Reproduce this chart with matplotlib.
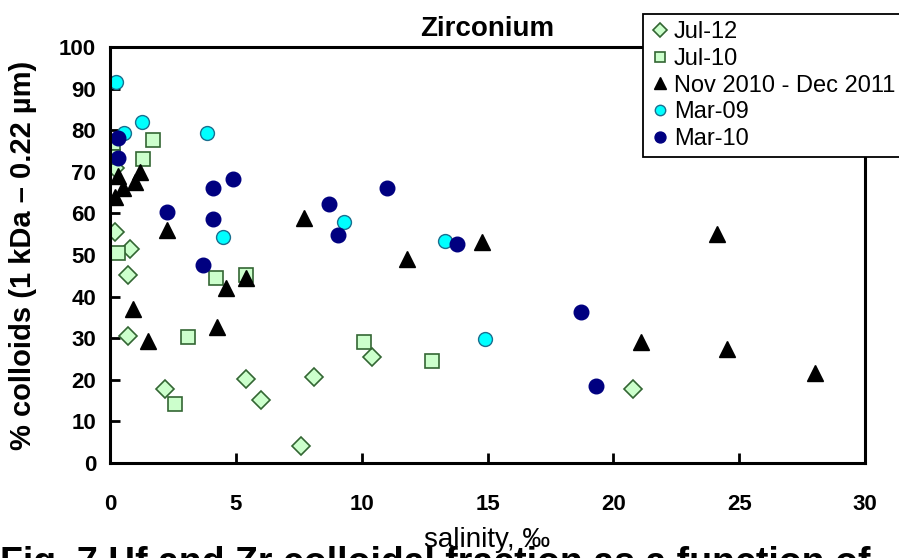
import numpy as np
import matplotlib.pyplot as plt

# salinity (permil) and % colloids for each campaign
jul12_x = [0.2, 0.8, 0.7, 0.7, 2.2, 5.4, 6.0, 7.6, 8.1, 10.4, 20.8, 0.2]
jul12_y = [55.5, 51.5, 45.2, 30.5, 17.8, 20.2, 15.1, 4.1, 20.7, 25.5, 17.8, 71.0]

jul10_x = [0.1, 0.1, 1.7, 1.3, 0.3, 4.2, 5.4, 3.1, 2.6, 10.1, 12.8]
jul10_y = [77.0, 73.6, 77.6, 73.0, 50.5, 44.5, 45.2, 30.3, 14.2, 29.0, 24.5]

nov_x = [0.2, 0.5, 1.0, 1.2, 0.3, 2.25, 0.9, 1.5, 4.6, 5.4, 4.25, 7.7, 11.8, 14.8, 24.1, 21.1, 24.5, 28.0]
nov_y = [64.0, 66.0, 67.5, 70.0, 69.0, 56.0, 37.0, 29.4, 42.1, 44.5, 32.7, 58.9, 49.0, 53.2, 55.0, 29.1, 27.4, 21.6]

mar09_x = [0.24, 1.27, 0.56, 3.85, 4.5, 9.3, 13.3, 14.9]
mar09_y = [91.6, 82.0, 79.3, 79.3, 54.3, 57.9, 53.4, 29.8]

mar10_x = [0.33, 0.33, 2.25, 4.1, 4.9, 4.1, 3.7, 11.0, 8.7, 9.06, 13.8, 18.7, 19.3]
mar10_y = [78.1, 73.3, 60.3, 66.1, 68.2, 58.6, 47.6, 66.1, 62.3, 54.8, 52.6, 36.3, 18.5]

plt.rcParams['font.family'] = ['Liberation Sans', 'DejaVu Sans']

fig = plt.figure(figsize=(8.99, 5.58), dpi=100)
ax = fig.add_axes([0.1224, 0.1703, 0.8398, 0.7455])

ax.plot(jul12_x, jul12_y, 'D', ms=9, mfc='#ccffcc', mec='#336633', mew=1.2, ls='none', label='Jul-12')
ax.plot(jul10_x, jul10_y, 's', ms=9.5, mfc='#ccffcc', mec='#336633', mew=1.2, ls='none', label='Jul-10')
ax.plot(nov_x, nov_y, '^', ms=11, mfc='black', mec='black', ls='none', label='Nov 2010 - Dec 2011')
ax.plot(mar09_x, mar09_y, 'o', ms=10, mfc='#00ffff', mec='#1a6f8f', mew=1.0, ls='none', label='Mar-09')
ax.plot(mar10_x, mar10_y, 'o', ms=10.5, mfc='#000080', mec='#000080', ls='none', label='Mar-10')

ax.set_xlim(0, 30)
ax.set_ylim(0, 100)
ax.set_xticks(np.arange(0, 31, 5))
ax.set_yticks(np.arange(0, 101, 10))
ax.tick_params(direction='in', length=7, width=2, labelsize=16, pad=22)
ax.tick_params(axis='y', pad=10)
for lab in ax.get_xticklabels() + ax.get_yticklabels():
    lab.set_fontweight('bold')
for s in ax.spines.values():
    s.set_linewidth(2.2)

ax.set_title('Zirconium', fontsize=20, fontweight='bold', pad=8)
ax.set_ylabel('% colloids (1 kDa \u2013 0.22 \u00b5m)', fontsize=21, fontweight='bold', labelpad=16)
ax.set_xlabel('salinity, \u2030', fontsize=20, labelpad=9)

leg = fig.legend(loc='upper left', bbox_to_anchor=(643 / 899, 1 - 14 / 558), fontsize=17,
                 markerscale=0.75, handlelength=0.8, handletextpad=0.2, labelspacing=0.2,
                 borderpad=0.3, borderaxespad=0, fancybox=False, framealpha=1, edgecolor='black')
leg.get_frame().set_linewidth(1.3)

fig.text(0.0, -0.028, 'Fig. 7 Hf and Zr colloidal fraction as a function of', fontsize=27,
         fontweight='bold', va='baseline')

fig.savefig('out.png', dpi=100)
